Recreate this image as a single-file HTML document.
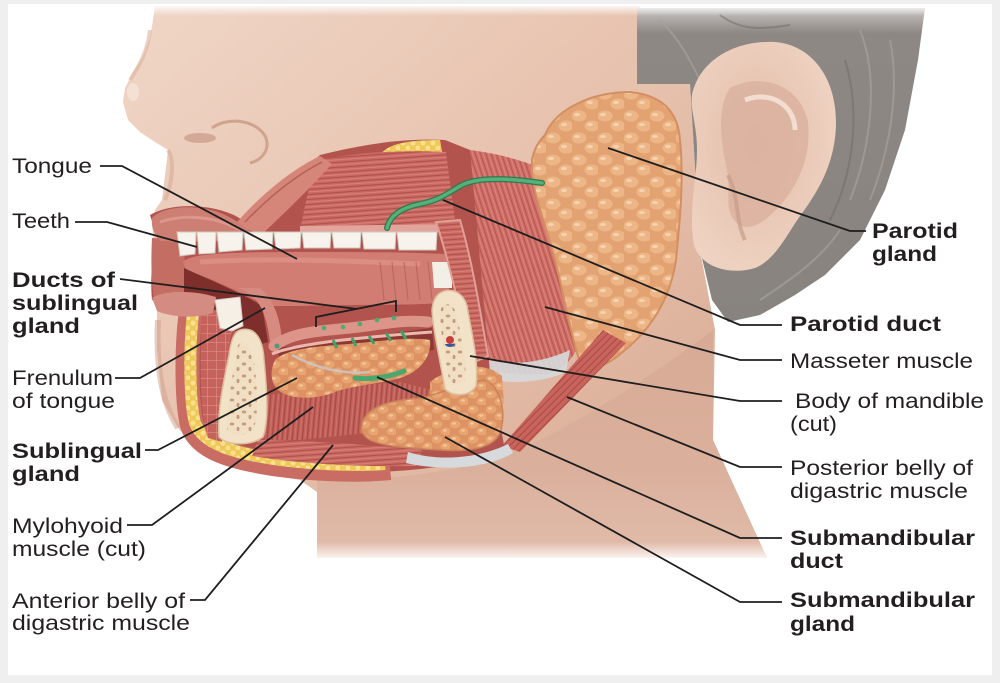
<!DOCTYPE html>
<html><head><meta charset="utf-8">
<style>
html,body{margin:0;padding:0;background:#efefef;}
svg{display:block;}
</style></head><body>
<svg width="1000" height="683" viewBox="0 0 1000 683" xmlns="http://www.w3.org/2000/svg">
<defs>
  <linearGradient id="skinG" x1="0" y1="0" x2="1" y2="1">
    <stop offset="0" stop-color="#f0d6c7"/>
    <stop offset="0.5" stop-color="#e6c0ab"/>
    <stop offset="1" stop-color="#d6a690"/>
  </linearGradient>
  <linearGradient id="neckG" x1="0" y1="0" x2="0" y2="1">
    <stop offset="0" stop-color="#d8aa95"/>
    <stop offset="0.6" stop-color="#dab09c"/>
    <stop offset="0.93" stop-color="#e0baa8"/>
    <stop offset="1" stop-color="#fbf4f0"/>
  </linearGradient>
  <linearGradient id="topFade" x1="0" y1="0" x2="0" y2="1">
    <stop offset="0" stop-color="#ffffff" stop-opacity="1"/>
    <stop offset="1" stop-color="#ffffff" stop-opacity="0"/>
  </linearGradient>
  <linearGradient id="hairG" x1="0" y1="0" x2="0" y2="1">
    <stop offset="0" stop-color="#c9c5c2"/>
    <stop offset="0.08" stop-color="#8e8884"/>
    <stop offset="1" stop-color="#88837f"/>
  </linearGradient>
  <radialGradient id="earG" cx="0.45" cy="0.45" r="0.6">
    <stop offset="0" stop-color="#e2bca8"/>
    <stop offset="1" stop-color="#efd3c2"/>
  </radialGradient>
  <pattern id="parP" width="26" height="22" patternUnits="userSpaceOnUse">
    <rect width="26" height="22" fill="#e3a272"/>
    <ellipse cx="7" cy="6" rx="7.5" ry="5.5" fill="#edb687"/>
    <ellipse cx="20" cy="16" rx="7.5" ry="5.5" fill="#edb687"/>
    <ellipse cx="5" cy="4.5" rx="3" ry="1.6" fill="#f6d2b0"/>
    <ellipse cx="18" cy="14.5" rx="3" ry="1.6" fill="#f6d2b0"/>
  </pattern>
  <pattern id="glP" width="18" height="15" patternUnits="userSpaceOnUse">
    <rect width="18" height="15" fill="#dc9262"/>
    <ellipse cx="5" cy="4.5" rx="5.5" ry="4" fill="#e8a571"/>
    <ellipse cx="14" cy="11.5" rx="5.5" ry="4" fill="#e8a571"/>
    <ellipse cx="4" cy="3.5" rx="2" ry="1.2" fill="#f3c79c"/>
    <ellipse cx="13" cy="10.5" rx="2" ry="1.2" fill="#f3c79c"/>
  </pattern>
  <pattern id="musV" width="5" height="5" patternUnits="userSpaceOnUse" patternTransform="rotate(72)">
    <rect width="5" height="5" fill="#cf6f67"/>
    <rect y="0" width="5" height="1.1" fill="#b8574f"/>
    <rect y="2.6" width="5" height="0.7" fill="#de8f87"/>
  </pattern>
  <pattern id="musH" width="5" height="5" patternUnits="userSpaceOnUse" patternTransform="rotate(-4)">
    <rect width="5" height="5" fill="#cb6a62"/>
    <rect y="0" width="5" height="1.1" fill="#b0524b"/>
    <rect y="2.6" width="5" height="0.7" fill="#dc8a82"/>
  </pattern>
  <pattern id="musS" width="5" height="5" patternUnits="userSpaceOnUse" patternTransform="rotate(95)">
    <rect width="5" height="5" fill="#c3615a"/>
    <rect y="0" width="5" height="1.3" fill="#a84b45"/>
    <rect y="2.6" width="5" height="0.7" fill="#d27a72"/>
  </pattern>
  <pattern id="musD" width="5" height="5" patternUnits="userSpaceOnUse" patternTransform="rotate(-45)">
    <rect width="5" height="5" fill="#c8645c"/>
    <rect y="0" width="5" height="1.1" fill="#a94b45"/>
  </pattern>
  <pattern id="fatP" width="10" height="10" patternUnits="userSpaceOnUse">
    <rect width="10" height="10" fill="#eec95a"/>
    <circle cx="3" cy="3" r="2.6" fill="#f8e08c"/>
    <circle cx="8" cy="8" r="2.6" fill="#f8e08c"/>
  </pattern>
  <pattern id="boneP" width="12" height="12" patternUnits="userSpaceOnUse">
    <rect width="12" height="12" fill="#f1dfc3"/>
    <ellipse cx="4" cy="4" rx="2.2" ry="1.5" fill="#c39c7e"/>
    <ellipse cx="10" cy="9" rx="1.5" ry="2.1" fill="#c39c7e"/>
  </pattern>
  <pattern id="netP" width="9" height="9" patternUnits="userSpaceOnUse">
    <rect width="9" height="9" fill="#c4625b"/>
    <path d="M0,0 L9,0 M0,0 L0,9" stroke="#e59a90" stroke-width="1"/>
  </pattern>
</defs>

<!-- panel -->
<rect x="8" y="4" width="984" height="671" fill="#ffffff"/>

<!-- head skin -->
<path d="M155,6 L640,6 L640,84 L690,84 L700,250 L715,330 L713,440 L767,558 L317,558 L317,492 L300,480 L240,470 L200,452 L178,428 L162,400 L157,350 L157,305 L152,295 L156,260 L152,225 L155,210 L162,200 L165,175 L168,150 L155,142 L140,132 L128,120 L123,102 L125,88 L133,72 L142,58 L150,38 L153,20 Z" fill="url(#skinG)"/>
<!-- neck shading -->
<path d="M317,478 C400,482 480,470 540,440 C600,410 660,370 713,330 L713,440 L767,558 L317,558 Z" fill="url(#neckG)"/>
<!-- nose details -->
<path d="M150,30 C148,50 140,65 130,80" stroke="#dcb3a0" stroke-width="4" fill="none" opacity="0.6"/>
<ellipse cx="133" cy="92" rx="6" ry="9" fill="#f6e3d8" opacity="0.8"/>
<path d="M212,128 C228,116 258,120 266,138 C270,150 262,160 250,163" stroke="#c4917c" stroke-width="3" fill="none" opacity="0.7"/>
<ellipse cx="200" cy="138" rx="16" ry="5" fill="#b98270" opacity="0.5"/>
<path d="M168,150 C175,160 172,185 165,200" stroke="#d8ab97" stroke-width="4" fill="none" opacity="0.6"/>
<!-- chin shading -->
<path d="M158,320 C156,360 160,400 178,428" stroke="#cf9e8a" stroke-width="6" fill="none" opacity="0.5"/>

<!-- hair -->
<path d="M637,8 L925,8 L918,60 L905,130 L885,190 L860,240 L825,275 L795,295 L760,315 L728,322 L712,300 L700,250 L690,84 L637,84 Z" fill="url(#hairG)"/>
<g stroke="#a7a19d" stroke-width="2" fill="none" opacity="0.7">
  <path d="M660,20 C680,40 690,60 700,80"/>
  <path d="M860,30 C880,80 870,150 850,200"/>
  <path d="M890,40 C900,90 890,150 870,200"/>
  <path d="M840,230 C820,260 790,280 760,300"/>
</g>
<g stroke="#6f6a66" stroke-width="2" fill="none" opacity="0.5">
  <path d="M720,15 C740,30 760,30 790,25"/>
  <path d="M845,60 C860,110 855,170 830,220"/>
</g>
<!-- ear -->
<path d="M692,95 C700,58 738,40 775,42 C812,45 836,78 836,122 C836,162 818,192 800,216 C786,236 775,260 755,268 C728,276 700,266 694,245 C688,210 697,180 697,150 C697,125 690,110 692,95 Z" fill="url(#earG)"/>
<path d="M730,88 C760,72 800,84 808,122 C812,160 795,190 776,210 C762,224 748,232 738,224 C722,210 732,192 727,170 C721,140 716,110 730,88 Z" fill="#d9b09d" opacity="0.8"/>
<path d="M745,100 C770,90 795,105 795,130" stroke="#f3ddd0" stroke-width="5" fill="none"/>
<path d="M728,175 C740,200 735,220 745,240" stroke="#c89c89" stroke-width="4" fill="none" opacity="0.7"/>

<!-- masseter -->
<path d="M438,148 C470,148 510,155 540,168 C555,230 570,290 580,340 C575,360 560,372 540,375 L490,372 C478,330 468,280 458,230 C452,200 445,170 438,148 Z" fill="url(#musV)"/>
<!-- masseter bottom tendon -->
<path d="M478,356 C500,366 535,366 570,350 L566,372 C540,384 505,384 484,378 Z" fill="#d6dadd" opacity="0.9"/>

<!-- parotid -->
<path d="M545,135 C555,110 590,92 630,92 C660,95 678,110 680,140 C684,180 680,220 676,260 C670,300 650,330 625,350 C605,368 590,372 580,362 C572,340 565,300 555,260 C545,220 530,190 532,160 C534,148 540,140 545,135 Z" fill="url(#parP)" stroke="#d38f62" stroke-width="2"/>

<!-- posterior digastric -->
<path d="M603,330 L626,343 L520,452 L502,446 Z" fill="url(#musD)"/>

<!-- dissection base -->
<path d="M150,215 C175,200 225,205 245,222 L320,155 C360,145 400,138 445,140 L470,150 L490,372 L505,450 C470,465 420,470 380,472 C340,476 290,470 240,465 C210,458 190,445 183,425 C178,390 180,340 182,312 L152,300 C150,280 152,250 158,240 Z" fill="#b3534d"/>
<!-- lip corner -->
<path d="M152,238 L184,240 L186,296 L154,298 C151,280 151,258 152,238 Z" fill="#c46d63"/>

<!-- top fat -->
<path d="M378,162 C380,146 400,140 440,140 L446,174 L380,172 Z" fill="url(#fatP)"/>
<!-- cheek muscle band -->
<path d="M318,160 C360,152 400,150 446,152 L456,228 L300,230 C305,205 310,180 318,160 Z" fill="url(#musH)"/>
<path d="M300,226 L456,224 L456,232 L300,234 Z" fill="#e3a59b"/>
<!-- flap -->
<path d="M234,226 C255,200 290,170 320,156 L332,164 C312,186 286,212 262,234 Z" fill="#d58679"/>
<path d="M245,222 C268,198 295,176 322,162" stroke="#b65e55" stroke-width="1.5" fill="none"/>
<!-- upper lip -->
<path d="M152,218 C162,207 190,204 215,211 C232,217 245,226 252,234 L240,240 L180,242 L160,241 C153,233 151,225 152,218 Z" fill="#cd7f74"/>
<path d="M160,222 C185,214 215,216 240,230" stroke="#e2a095" stroke-width="3" fill="none" opacity="0.7"/>

<!-- upper teeth -->
<g fill="#f7f3ec" stroke="#cfc8c0" stroke-width="1">
  <path d="M177,232 L196,232 L195,254 L180,256 Z"/>
  <path d="M197,232 L216,232 L215,253 L199,254 Z"/>
  <path d="M217,232 L243,232 L242,250 L219,252 Z"/>
  <path d="M244,232 L273,232 L272,249 L246,250 Z"/>
  <path d="M274,232 L301,232 L300,248 L276,249 Z"/>
  <path d="M302,232 L331,232 L330,248 L304,248 Z"/>
  <path d="M332,232 L361,232 L360,248 L334,248 Z"/>
  <path d="M362,232 L396,232 L395,249 L364,249 Z"/>
  <path d="M397,232 L437,232 L436,250 L399,250 Z"/>
</g>

<!-- tongue -->
<path d="M183,262 C190,254 220,252 300,252 C360,252 400,252 446,254 L450,302 C420,306 360,304 300,306 L266,306 C240,292 210,278 186,270 Z" fill="#d17d73"/>
<path d="M200,262 C260,258 330,260 420,264" stroke="#e0978c" stroke-width="5" fill="none" opacity="0.7"/>
<g stroke="#b4605a" stroke-width="1.2" opacity="0.7">
  <path d="M380,262 L384,300"/><path d="M392,262 L396,300"/><path d="M404,262 L408,300"/><path d="M416,262 L420,300"/><path d="M428,262 L432,300"/>
</g>
<!-- dark cavity under tongue -->
<path d="M184,268 C205,278 240,292 262,306 L268,342 L255,346 C240,330 215,318 190,312 L184,300 Z" fill="#7e2f2c"/>
<!-- frenulum fold -->
<path d="M238,288 C256,294 266,308 270,342 L282,340 C280,315 272,298 260,288 Z" fill="#d68a80"/>
<!-- molar -->
<path d="M432,262 L452,262 L452,288 L434,288 Z" fill="#f3eee6"/>
<!-- buccinator strip -->
<path d="M436,222 L460,220 C472,260 480,310 488,356 L470,364 C462,320 452,270 436,222 Z" fill="url(#musH)" stroke="#e0a097" stroke-width="2"/>

<!-- chin section border and fat -->
<path d="M192,305 C186,340 186,400 192,425 C200,448 230,458 280,465 C320,470 360,471 390,468" stroke="#c96d64" stroke-width="24" fill="none"/>
<path d="M194,306 C189,340 189,400 195,423 C203,444 232,453 280,460 C320,465 360,466 385,464" stroke="url(#fatP)" stroke-width="12" fill="none"/>
<!-- mentalis -->
<path d="M202,312 L238,306 L230,340 L222,442 L208,438 C201,420 200,380 201,340 Z" fill="url(#netP)"/>
<!-- lower lip -->
<path d="M152,298 C165,290 192,290 216,297 L213,313 C195,319 170,317 157,311 Z" fill="#d48c82"/>
<!-- lower incisors -->
<path d="M215,300 L240,297 L243,326 L232,331 L220,328 Z" fill="#f5efe6" stroke="#d2cabf" stroke-width="1"/>

<!-- dark gap under fold -->
<path d="M278,348 L432,328 L434,350 L280,366 Z" fill="#8a3833"/>
<!-- mylohyoid -->
<path d="M262,396 C300,390 350,386 400,382 L440,392 C430,405 410,420 395,430 L300,440 L265,440 Z" fill="url(#musS)"/>
<!-- sublingual gland -->
<path d="M275,360 C290,346 330,346 360,343 C390,340 410,337 430,340 C432,356 420,372 400,378 C380,384 355,385 335,392 C315,400 290,400 278,390 C270,382 270,370 275,360 Z" fill="url(#glP)"/>
<path d="M292,355 C315,368 345,375 370,372" stroke="#c9c9cc" stroke-width="2.5" fill="none" opacity="0.8"/>
<!-- submandibular gland -->
<path d="M430,382 C450,366 485,360 502,376 L504,404 L430,404 Z" fill="url(#glP)"/>
<path d="M362,425 C365,405 395,400 420,398 C440,395 460,382 485,380 C500,386 506,410 501,430 C496,448 470,452 440,450 C410,448 385,447 370,440 C362,435 360,430 362,425 Z" fill="url(#glP)" stroke="#c9845a" stroke-width="1.5"/>
<!-- anterior digastric -->
<path d="M258,440 C300,440 360,444 422,450 L416,466 C360,467 300,464 252,456 Z" fill="url(#musH)"/>
<!-- gray tendon lower -->
<path d="M408,452 C440,462 480,458 508,444 L513,453 C486,469 440,471 406,463 Z" fill="#d6dadd"/>

<!-- floor fold tube -->
<path d="M274,346 C292,332 320,331 350,328 C380,325 402,319 428,322" stroke="#dd958a" stroke-width="11" fill="none" stroke-linecap="round"/>
<path d="M272,354 C300,342 380,336 432,332" stroke="#ecb7ac" stroke-width="3" fill="none"/>
<circle cx="277" cy="346" r="2.5" fill="#4c9a78"/>
<g fill="#4caa74">
  <circle cx="324" cy="328" r="2.3"/><circle cx="343" cy="327" r="2.3"/><circle cx="360" cy="324" r="2.3"/><circle cx="377" cy="320" r="2.3"/><circle cx="394" cy="318" r="2.3"/>
</g>
<g stroke="#3fa36b" stroke-width="3">
  <path d="M333,340 L337,348"/><path d="M352,338 L356,346"/><path d="M369,336 L374,344"/><path d="M386,333 L391,341"/><path d="M401,331 L406,339"/>
</g>

<!-- front bone -->
<path d="M240,330 C256,326 263,340 264,360 C267,390 269,420 263,437 C251,446 228,446 219,437 C217,410 224,380 229,355 C231,340 234,332 240,330 Z" fill="#f2e2c8" stroke="#dcc0a0" stroke-width="1.5"/>
<path d="M241,342 C251,342 255,360 256,380 C258,405 257,425 252,432 C242,437 232,436 227,430 C227,405 232,380 235,360 C236,350 238,343 241,342 Z" fill="url(#boneP)"/>
<!-- back bone -->
<path d="M440,293 C451,287 463,292 467,306 C471,330 479,360 476,386 C470,397 452,397 445,389 C440,360 433,330 432,310 C433,300 436,296 440,293 Z" fill="#f2e2c8" stroke="#dcc0a0" stroke-width="1.5"/>
<path d="M444,305 C452,302 457,310 459,325 C462,345 467,365 465,380 C460,386 452,386 449,380 C446,360 441,335 440,318 C440,310 441,307 444,305 Z" fill="url(#boneP)"/>
<circle cx="450" cy="340" r="4" fill="#c2403a"/>
<path d="M445,344 A5,3 0 0 0 455,344" fill="#3b57a0"/>

<!-- submandibular duct -->
<path d="M355,378 C370,380 390,377 404,371" stroke="#48a86d" stroke-width="5" fill="none" stroke-linecap="round"/>
<!-- parotid duct -->
<path d="M542,183 C520,180 482,175 462,185 C446,194 440,200 420,204 C400,208 390,216 387,228" stroke="#2f7a4e" stroke-width="6" fill="none" stroke-linecap="round"/>
<path d="M542,183 C520,180 482,175 462,185 C446,194 440,200 420,204 C400,208 390,216 387,228" stroke="#55b07a" stroke-width="3.5" fill="none" stroke-linecap="round"/>

<!-- top edge fade -->
<rect x="8" y="4" width="984" height="12" fill="url(#topFade)"/>

<!-- leader lines -->
<g stroke="#1e1e1e" stroke-width="1.8" fill="none">
  <path d="M100,166 L122,166 L297,259"/>
  <path d="M75,222 L107,222 L197,247"/>
  <path d="M120,279 L357,309"/>
  <path d="M316,327 L316,317 L396,301 L396,312"/>
  <path d="M115,378 L140,378 L265,308"/>
  <path d="M145,450 L158,450 L297,378"/>
  <path d="M127,525 L152,525 L313,407"/>
  <path d="M190,600 L205,600 L333,445"/>
  <path d="M608,148 L850,231 L866,231"/>
  <path d="M443,200 L740,325 L782,325"/>
  <path d="M545,307 L740,360 L782,360"/>
  <path d="M470,356 L740,401 L782,401"/>
  <path d="M567,397 L740,467 L782,467"/>
  <path d="M377,377 L740,538 L782,538"/>
  <path d="M445,437 L740,602 L782,602"/>
</g>

<!-- labels -->
<g font-family="'Liberation Sans', Arial, sans-serif" font-size="21" fill="#231f20">
  <text x="12" y="173" textLength="80" lengthAdjust="spacingAndGlyphs">Tongue</text>
  <text x="12" y="228" textLength="58" lengthAdjust="spacingAndGlyphs">Teeth</text>
  <text x="12" y="287" textLength="103" lengthAdjust="spacingAndGlyphs" font-weight="bold">Ducts of</text>
  <text x="12" y="310" textLength="126" lengthAdjust="spacingAndGlyphs" font-weight="bold">sublingual</text>
  <text x="12" y="333" textLength="68" lengthAdjust="spacingAndGlyphs" font-weight="bold">gland</text>
  <text x="12" y="385" textLength="101" lengthAdjust="spacingAndGlyphs">Frenulum</text>
  <text x="12" y="408" textLength="103" lengthAdjust="spacingAndGlyphs">of tongue</text>
  <text x="12" y="458" textLength="130" lengthAdjust="spacingAndGlyphs" font-weight="bold">Sublingual</text>
  <text x="12" y="481" textLength="68" lengthAdjust="spacingAndGlyphs" font-weight="bold">gland</text>
  <text x="12" y="533" textLength="111" lengthAdjust="spacingAndGlyphs">Mylohyoid</text>
  <text x="12" y="556" textLength="134" lengthAdjust="spacingAndGlyphs">muscle (cut)</text>
  <text x="12" y="608" textLength="173" lengthAdjust="spacingAndGlyphs">Anterior belly of</text>
  <text x="12" y="630" textLength="178" lengthAdjust="spacingAndGlyphs">digastric muscle</text>

  <text x="872" y="238" textLength="86" lengthAdjust="spacingAndGlyphs" font-weight="bold">Parotid</text>
  <text x="872" y="261" textLength="65" lengthAdjust="spacingAndGlyphs" font-weight="bold">gland</text>
  <text x="790" y="331" textLength="151" lengthAdjust="spacingAndGlyphs" font-weight="bold">Parotid duct</text>
  <text x="790" y="368" textLength="183" lengthAdjust="spacingAndGlyphs">Masseter muscle</text>
  <text x="795" y="408" textLength="189" lengthAdjust="spacingAndGlyphs">Body of mandible</text>
  <text x="790" y="431" textLength="47" lengthAdjust="spacingAndGlyphs">(cut)</text>
  <text x="790" y="475" textLength="183" lengthAdjust="spacingAndGlyphs">Posterior belly of</text>
  <text x="790" y="498" textLength="178" lengthAdjust="spacingAndGlyphs">digastric muscle</text>
  <text x="790" y="545" textLength="185" lengthAdjust="spacingAndGlyphs" font-weight="bold">Submandibular</text>
  <text x="790" y="568" textLength="53" lengthAdjust="spacingAndGlyphs" font-weight="bold">duct</text>
  <text x="790" y="607" textLength="185" lengthAdjust="spacingAndGlyphs" font-weight="bold">Submandibular</text>
  <text x="790" y="631" textLength="65" lengthAdjust="spacingAndGlyphs" font-weight="bold">gland</text>
</g>
</svg>
</body></html>
